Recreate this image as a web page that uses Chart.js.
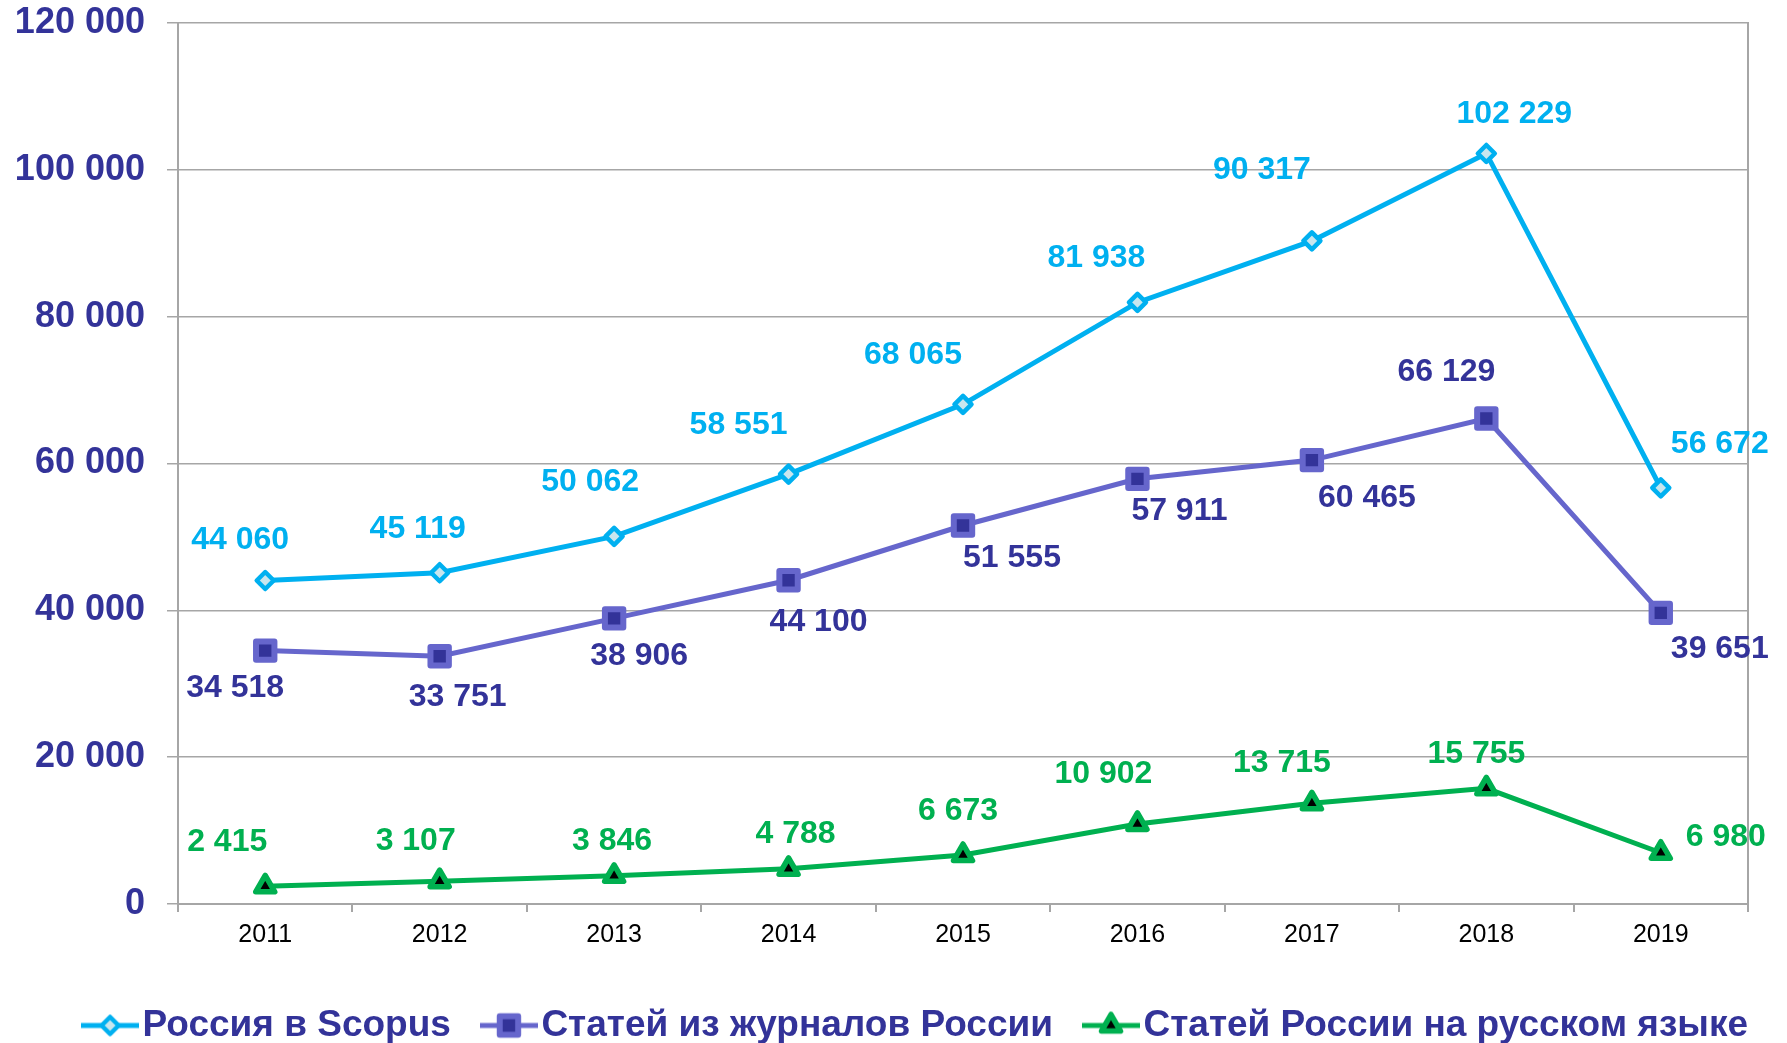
<!DOCTYPE html>
<html>
<head>
<meta charset="utf-8">
<script src="https://cdn.jsdelivr.net/npm/chart.js@4/dist/chart.umd.min.js"></script>
<style>
  html, body { margin: 0; padding: 0; background: #fff; }
  #wrap { width: 1787px; height: 1043px; }
</style>
</head>
<body>
<div id="wrap"><canvas id="chart" width="1787" height="1043"></canvas></div>
<script>
const years = ['2011', '2012', '2013', '2014', '2015', '2016', '2017', '2018', '2019'];

const scopus   = [44060, 45119, 50062, 58551, 68065, 81938, 90317, 102229, 56672];
const journals = [34518, 33751, 38906, 44100, 51555, 57911, 60465, 66129, 39651];
const russian  = [2415, 3107, 3846, 4788, 6673, 10902, 13715, 15755, 6980];

const names = [
    'Россия в Scopus',
    'Статей из журналов России',
    'Статей России на русском языке',
];

// where each value label sits relative to its point (px)
const scopusShift   = [[-25, -40], [-22, -44], [-24, -54], [-50, -49], [-50, -49], [-41, -44], [-50, -71], [28, -39], [59, -44]];
const journalsShift = [[-30, 38], [18, 41], [25, 38], [30, 42], [49, 33], [42, 32], [55, 38], [-40, -46], [59, 36]];
const russianShift  = [[-38, -44], [-24, -40], [-2, -35], [7, -35], [-5, -44], [-34, -50], [-30, -40], [-10, -34], [65, -16]];

const FONT = "'Liberation Sans', Arial, sans-serif";
const NAVY = '#333399';
const GRID = '#a6a6a6';

const RIGHT_PAD = -5;        // lets the legend run up to the frame line
const PLOT_RIGHT = 1748;

function fmt(v) {
    return String(v).replace(/\B(?=(\d{3})+(?!\d))/g, ' ');
}

// legend icon: a piece of line with the marker in the middle
function legendIcon(ds) {
    const c = document.createElement('canvas');
    c.width = 58;
    c.height = 32;
    const ctx = c.getContext('2d');
    ctx.strokeStyle = ds.borderColor;
    ctx.lineWidth = 5;
    ctx.beginPath();
    ctx.moveTo(0, 16);
    ctx.lineTo(58, 16);
    ctx.stroke();
    ctx.lineJoin = 'round';
    ctx.strokeStyle = ds.pointBorderColor;
    ctx.fillStyle = ds.pointBackgroundColor;
    ctx.lineWidth = ds.pointBorderWidth;
    Chart.helpers.drawPoint(ctx, {pointStyle: ds.pointStyle, radius: ds.pointRadius, rotation: 0, borderWidth: ds.pointBorderWidth}, 29, 16);
    return c;
}

const valueLabels = {
    id: 'valueLabels',
    beforeDatasetsDraw(chart) {
        chart.ctx.lineJoin = 'round';
    },
    afterDatasetsDraw(chart) {
        const ctx = chart.ctx;
        ctx.save();
        ctx.font = 'bold 32px ' + FONT;
        ctx.textAlign = 'center';
        ctx.textBaseline = 'middle';
        chart.data.datasets.forEach((ds, i) => {
            const meta = chart.getDatasetMeta(i);
            ctx.fillStyle = ds.labelColor;
            meta.data.forEach((pt, j) => {
                const s = ds.labelShift[j];
                ctx.fillText(fmt(ds.data[j]), pt.x + s[0], pt.y + s[1]);
            });
        });
        ctx.restore();
    },
};

const datasets = [
    {
        label: names[0],
        data: scopus,
        borderColor: '#00b0f0',
        borderWidth: 5,
        pointStyle: 'rectRot',
        pointRadius: 8.5,
        pointBackgroundColor: '#c8e6ee',
        pointBorderColor: '#00b0f0',
        pointBorderWidth: 4.5,
        labelColor: '#00b0f0',
        labelShift: scopusShift,
    },
    {
        label: names[1],
        data: journals,
        borderColor: '#6666cc',
        borderWidth: 5,
        pointStyle: 'rect',
        pointRadius: 13,
        pointBackgroundColor: NAVY,
        pointBorderColor: '#6666cc',
        pointBorderWidth: 6,
        labelColor: NAVY,
        labelShift: journalsShift,
    },
    {
        label: names[2],
        data: russian,
        borderColor: '#00b050',
        borderWidth: 5,
        pointStyle: 'triangle',
        pointRadius: 11,
        pointBackgroundColor: '#000000',
        pointBorderColor: '#00b050',
        pointBorderWidth: 5.5,
        labelColor: '#00b050',
        labelShift: russianShift,
    },
];

const chart = new Chart(document.getElementById('chart').getContext('2d'), {
    type: 'line',
    data: {labels: years, datasets: datasets},
    plugins: [valueLabels],
    options: {
        responsive: false,
        animation: false,
        layout: {padding: {top: 23, right: RIGHT_PAD, left: 0, bottom: -11}},
        elements: {line: {tension: 0}},
        scales: {
            x: {
                offset: true,
                grid: {
                    offset: true,
                    drawOnChartArea: false,
                    color: GRID,
                    lineWidth: 2,
                    tickLength: 8,
                },
                border: {color: GRID, width: 2},
                ticks: {
                    color: '#000',
                    font: {family: FONT, size: 25},
                    padding: 8,
                    maxRotation: 0,
                },
                afterFit(scale) { scale.height = 59; },
            },
            y: {
                min: 0,
                max: 120000,
                grid: {
                    color: GRID,
                    lineWidth: 1.5,
                    tickLength: 11,
                },
                border: {color: GRID, width: 2},
                ticks: {
                    stepSize: 20000,
                    color: NAVY,
                    font: {family: FONT, size: 36, weight: 'bold'},
                    padding: 22,
                    callback: (v) => fmt(v),
                },
                afterFit(scale) {
                    scale.width = 178;
                    scale.paddingTop = 0;
                    scale.paddingBottom = 0;
                },
            },
            // empty right axis: only its line, the frame on the right
            frame: {
                type: 'linear',
                position: 'right',
                min: 0,
                max: 120000,
                grid: {display: false},
                ticks: {display: false},
                border: {color: GRID, width: 2},
                afterFit(scale) {
                    scale.width = 1787 - RIGHT_PAD - PLOT_RIGHT;
                    scale.paddingTop = 0;
                    scale.paddingBottom = 0;
                },
            },
        },
        plugins: {
            tooltip: {enabled: false},
            legend: {
                position: 'bottom',
                align: 'end',
                labels: {
                    usePointStyle: true,
                    pointStyleWidth: 28,
                    padding: 44,
                    color: NAVY,
                    font: {family: FONT, size: 37, weight: 'bold'},
                    generateLabels(chart) {
                        return chart.data.datasets.map((ds, i) => ({
                            text: ds.label,
                            pointStyle: legendIcon(ds),
                            fontColor: NAVY,
                            datasetIndex: i,
                            hidden: false,
                            lineWidth: 0,
                        }));
                    },
                },
            },
        },
    },
});
</script>
</body>
</html>
